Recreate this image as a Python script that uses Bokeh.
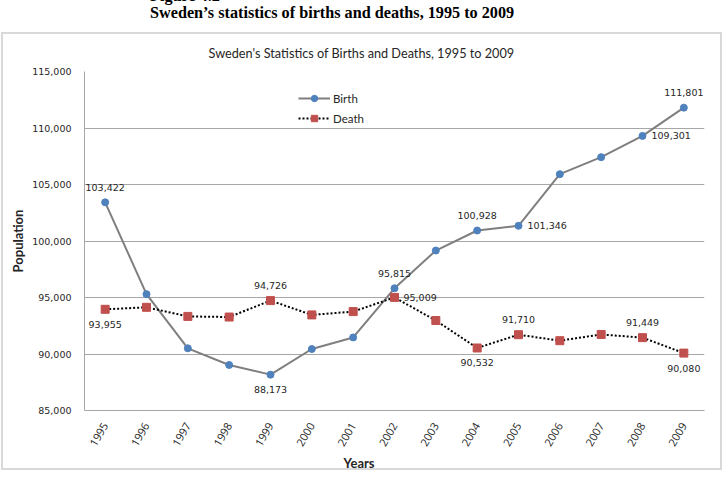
from math import pi

from bokeh.core.properties import value
from bokeh.embed import file_html
from bokeh.layouts import column
from bokeh.models import (ColumnDataSource, Div, FactorRange, Legend,
                          LegendItem, NumeralTickFormatter, Range1d, Title)
from bokeh.plotting import figure
from bokeh.resources import INLINE

# Sweden: live births and deaths per year
years = ["1995", "1996", "1997", "1998", "1999", "2000", "2001", "2002",
         "2003", "2004", "2005", "2006", "2007", "2008", "2009"]
births = [103422, 95297, 90502, 89028, 88173, 90441, 91466, 95815,
          99157, 100928, 101346, 105913, 107421, 109301, 111801]
deaths = [93955, 94133, 93326, 93271, 94726, 93461, 93752, 95009,
          92961, 90532, 91710, 91177, 91729, 91449, 90080]
y_ticks = [85000, 90000, 95000, 100000, 105000, 110000, 115000]

# which points carry a value label, and where it sits
birth_labels = {"1995": "above", "1999": "below", "2002": "above",
                "2004": "above", "2005": "right", "2008": "right",
                "2009": "above"}
death_labels = {"1995": "below", "1999": "above", "2002": "right",
                "2004": "below", "2005": "above", "2008": "above",
                "2009": "below"}

# chart box: the canvas itself, framed by an inset outline / shadow line
p = figure(width=721, height=438, output_backend="svg", toolbar_location=None,
           x_range=FactorRange(*years, range_padding=0),
           y_range=Range1d(y_ticks[0], y_ticks[-1]),
           min_border_left=83, min_border_right=18,
           min_border_top=39, min_border_bottom=59,
           background_fill_color="white", border_fill_alpha=0,
           margin=0,
           styles={"outline": "2px solid #d9d9d9", "outline-offset": "-2px",
                   "box-shadow": "inset 0 0 0 2px #d9d9d9",
                   "margin-left": "1px"})
p.outline_line_color = None

p.title.text = "Sweden's Statistics of Births and Deaths, 1995 to 2009"
p.title.align = "left"
p.title.offset = 124
p.title.standoff = 21
p.title.text_font = "Lato"
p.title.text_font_size = "12.7px"
p.title.text_font_style = "normal"
p.title.text_color = "#262626"

# axes
p.yaxis.ticker = y_ticks
p.yaxis.formatter = NumeralTickFormatter(format="0,0")
p.yaxis.major_tick_line_color = None
p.yaxis.minor_tick_line_color = None
p.yaxis.axis_line_color = "#a6a6a6"
p.yaxis.major_label_standoff = 7
p.yaxis.major_label_text_font = "DejaVu Sans"
p.yaxis.major_label_text_font_size = "9.5px"
p.yaxis.major_label_text_color = "#262626"

p.xaxis.major_tick_line_color = None
p.xaxis.axis_line_color = "#a6a6a6"
p.xaxis.major_label_orientation = pi / 3
p.xaxis.major_label_standoff = 7
p.xaxis.major_label_text_font = "Open Sans"
p.xaxis.major_label_text_font_size = "11px"
p.xaxis.major_label_text_color = "#262626"

p.xgrid.grid_line_color = None
p.ygrid.grid_line_color = "#a6a6a6"
p.ygrid.grid_line_width = 1

# axis titles
p.add_layout(Title(text="Years", align="left", offset=259, standoff=0,
                   text_font="Lato", text_font_size="13px",
                   text_font_style="bold", text_color="#262626"), "below")
p.add_layout(Title(text="Population", align="center", standoff=8,
                   text_font="Lato", text_font_size="13px",
                   text_font_style="bold", text_color="#262626"), "left")

# series
src = ColumnDataSource(dict(year=years, birth=births, death=deaths))
bl = p.line("year", "birth", source=src, line_color="#7f7f7f", line_width=2)
bm = p.scatter("year", "birth", source=src, marker="circle", size=7,
               fill_color="#4f81bd", line_color="#4f81bd")
dl = p.line("year", "death", source=src, line_color="black", line_width=2,
            line_dash="2 2")
dm = p.scatter("year", "death", source=src, marker="square", size=8,
               fill_color="#c0504d", line_color="#c0504d")

# value labels
OFFSETS = {"above": (0, -15, "center"), "below": (0, 15, "center"),
           "right": (9, 0, "left")}


def add_value_labels(series, where):
    for pos, (dx, dy, align) in OFFSETS.items():
        xs = [y for y in years if where.get(y) == pos]
        if not xs:
            continue
        vals = [series[years.index(y)] for y in xs]
        s = ColumnDataSource(dict(x=xs, y=vals, t=[f"{v:,}" for v in vals]))
        p.text("x", "y", text="t", source=s, x_offset=dx, y_offset=dy,
               text_align=align, text_baseline="middle",
               text_font=value("DejaVu Sans"), text_font_size="9.5px",
               text_color="#262626")


add_value_labels(births, birth_labels)
add_value_labels(deaths, death_labels)

legend = Legend(items=[LegendItem(label="Birth", renderers=[bl, bm]),
                       LegendItem(label="Death", renderers=[dl, dm])],
                location=(214, 284), orientation="vertical",
                glyph_width=32, glyph_height=16, label_height=16,
                spacing=4, padding=0, margin=0, label_standoff=3,
                label_text_font="Lato", label_text_font_size="11.5px",
                label_text_color="#262626",
                border_line_color=None, background_fill_alpha=0)
p.add_layout(legend, "center")

# figure caption above the chart box
header = Div(width=724, height=32, margin=0, text=(
    "<div style=\"position:relative;width:724px;height:32px;overflow:hidden;"
    "font-family:'Liberation Serif';font-weight:bold;font-size:16.2px;"
    "line-height:16px;color:#000;\">"
    "<div style=\"position:absolute;left:150px;top:-12px;\">Figure 4.2</div>"
    "<div style=\"position:absolute;left:150px;top:5px;\">"
    "Sweden\u2019s statistics of births and deaths, 1995 to 2009</div>"
    "</div>"))

page = column(header, p, spacing=0, margin=0)
open("out.html", "w").write(file_html(page, INLINE))
